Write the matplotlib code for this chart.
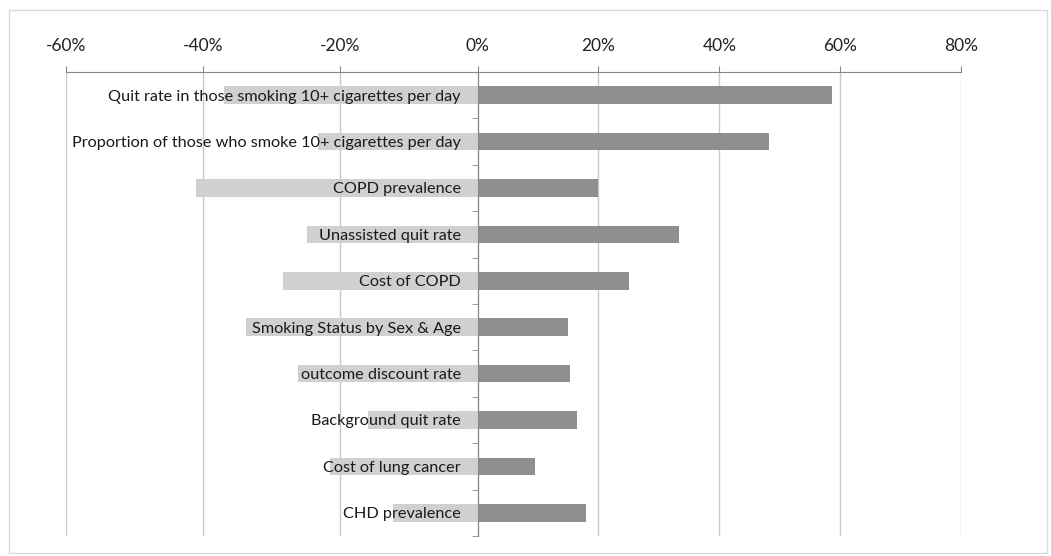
import matplotlib.pyplot as plt
import matplotlib.patches as mpatches
import numpy as np

# parameters (top to bottom) and the low / high change in outcome, in %
params = ["Quit rate in those smoking 10+ cigarettes per day",
          "Proportion of those who smoke 10+ cigarettes per day",
          "COPD prevalence",
          "Unassisted quit rate",
          "Cost of COPD",
          "Smoking Status by Sex & Age",
          "outcome discount rate",
          "Background quit rate",
          "Cost of lung cancer",
          "CHD prevalence"]
low = [-37.0, -23.3, -41.0, -24.9, -28.3, -33.8, -26.2, -15.9, -21.5, -12.4]
high = [58.6, 48.3, 20.0, 33.3, 25.0, 14.9, 15.3, 16.4, 9.5, 17.9]
xticks = [-60, -40, -20, 0, 20, 40, 60, 80]

plt.rcParams['font.family'] = ['Lato', 'DejaVu Sans']

# the negative half of the original axis is drawn a bit wider than the positive half
k = 1.135
def fwd(x):
    x = np.asarray(x, dtype=float)
    return np.where(x < 0, x * k, x)
def inv(x):
    x = np.asarray(x, dtype=float)
    return np.where(x < 0, x / k, x)

fig = plt.figure(figsize=(10.51, 5.56), dpi=100)
fig.patches.append(mpatches.Rectangle((0.009, 0.005), 0.987, 0.977, transform=fig.transFigure,
                                      fill=False, edgecolor='#d9d9d9', lw=1))
ax = fig.add_axes([0.0628, 0.036, 0.8516, 0.8345])
ax.set_xscale('function', functions=(fwd, inv))

y = np.arange(len(params))
ax.barh(y, low, height=0.38, color='#d0d0d0', zorder=2)
ax.barh(y, high, height=0.38, color='#8f8f8f', zorder=2)

ax.set_xlim(-60, 80)
ax.set_ylim(len(params) - 0.5, -0.5)
ax.set_xticks(xticks)
ax.set_xticklabels([f"{t}%" for t in xticks], fontsize=12.5, color='#222222')
ax.xaxis.tick_top()
ax.tick_params(axis='x', which='major', length=4, color='#888888', pad=9)
ax.grid(axis='x', color='#c8c8c8', lw=1)
ax.xaxis.set_zorder(0.5)

for s in ['right', 'bottom']:
    ax.spines[s].set_visible(False)
ax.spines['top'].set_color('#888888')
ax.spines['left'].set_position(('data', 0))
ax.spines['left'].set_color('#888888')
ax.spines['left'].set_zorder(3)

ax.set_yticks(y)
ax.set_yticklabels(params, fontsize=11.7, color='#1a1a1a')
ax.set_yticks(np.arange(len(params) + 1) - 0.5, minor=True)
ax.tick_params(axis='y', which='major', length=0, pad=12)
ax.tick_params(axis='y', which='minor', length=4, color='#888888')
ax.yaxis.set_zorder(5)

fig.savefig("out.png", dpi=100)
